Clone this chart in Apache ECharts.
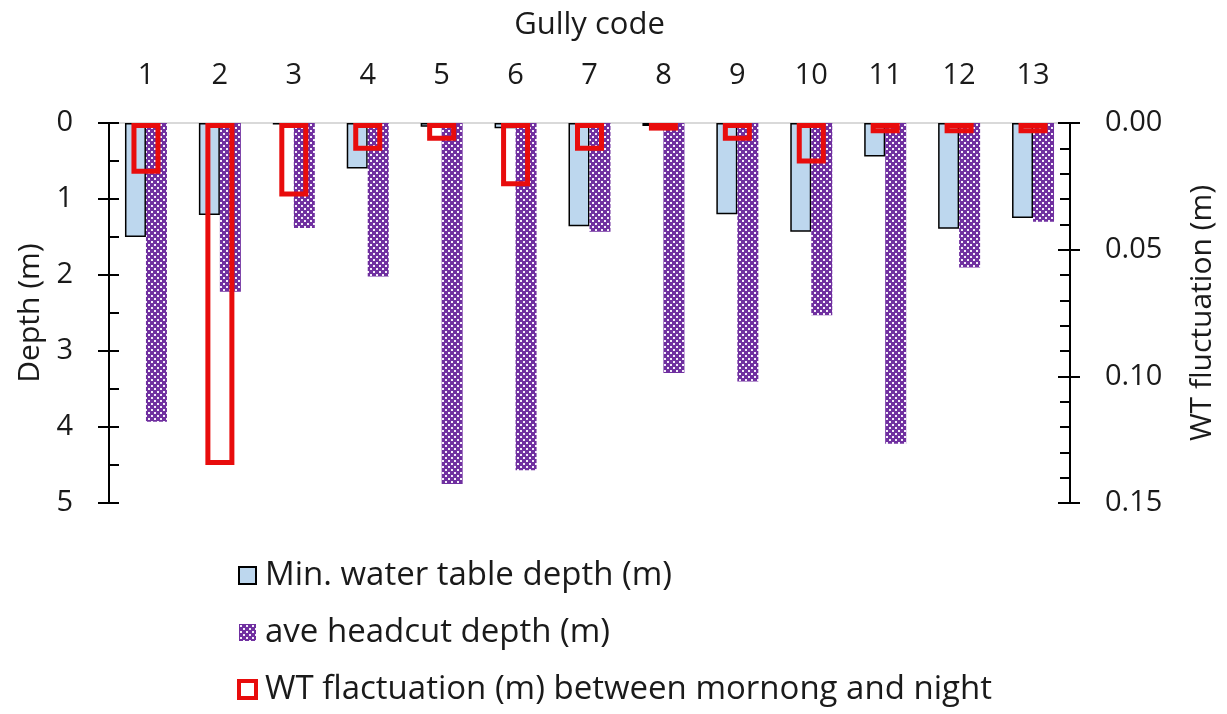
<!DOCTYPE html>
<html>
<head>
<meta charset="utf-8">
<script src="https://cdn.jsdelivr.net/npm/echarts@6/dist/echarts.min.js"></script>
<style>
  html, body { margin: 0; padding: 0; background: #fff; }
  #chart { width: 1227px; height: 714px; }
</style>
</head>
<body>
<div id="chart"></div>
<script>
// 数据
const gully = ['1', '2', '3', '4', '5', '6', '7', '8', '9', '10', '11', '12', '13'];
const minWaterTable = [1.50, 1.21, 0.02, 0.60, 0.05, 0.07, 1.36, 0.04, 1.20, 1.43, 0.44, 1.39, 1.25];
const headcutDepth = [3.93, 2.22, 1.38, 2.02, 4.75, 4.57, 1.43, 3.29, 3.40, 2.53, 4.22, 1.90, 1.30];
const wtFluct = [0.020, 0.135, 0.029, 0.011, 0.007, 0.025, 0.011, 0.003, 0.007, 0.016, 0.004, 0.004, 0.004];

// 紫色点状填充
const makeDots = () => {
  const c = document.createElement('canvas');
  c.width = 6; c.height = 6;
  const ctx = c.getContext('2d');
  ctx.fillStyle = '#7030a0';
  ctx.fillRect(0, 0, 6, 6);
  ctx.fillStyle = '#f4eefa';
  ctx.fillRect(1, 1, 2, 2);
  ctx.fillRect(4, 4, 2, 2);
  return c;
};

const font = 'Open Sans';
const txt = '#1a1a1a';
const chart = echarts.init(document.getElementById('chart'));

const option = {
  animation: false,
  textStyle: { fontFamily: font, color: txt },
  grid: { left: 109, right: 157, top: 123, bottom: 211, outerBoundsMode: 'none', containLabel: false },
  legend: {
    orient: 'vertical',
    left: 232,
    top: 554,
    icon: 'rect',
    itemWidth: 17,
    itemHeight: 17,
    itemGap: 24,
    textStyle: { fontSize: 33, color: txt, fontFamily: font, padding: [0, 0, 0, 4] },
    data: [
      'Min. water table depth (m)',
      'ave headcut depth (m)',
      { name: 'WT flactuation (m) between mornong and night', itemStyle: { borderWidth: 4 } }
    ]
  },
  xAxis: [
    {
      type: 'category',
      position: 'top',
      data: gully,
      name: 'Gully code',
      nameLocation: 'middle',
      nameGap: 82,
      nameTextStyle: { fontSize: 31, color: txt },
      axisLine: { lineStyle: { color: '#d9d9d9', width: 2 } },
      axisTick: { show: false },
      axisLabel: { fontSize: 29, color: txt, margin: 33 }
    },
    {
      type: 'category',
      position: 'top',
      data: gully,
      show: false
    }
  ],
  yAxis: [
    {
      type: 'value',
      inverse: true,
      min: 0, max: 5, interval: 1,
      position: 'left',
      name: 'Depth (m)',
      nameLocation: 'middle',
      nameGap: 56,
      nameTextStyle: { fontSize: 30, color: txt },
      axisLine: { show: true, lineStyle: { color: '#000', width: 2 } },
      axisTick: { show: true, length: 11, lineStyle: { color: '#000', width: 2 } },
      axisLabel: { fontSize: 29, color: txt, margin: 36 },
      splitLine: { show: false }
    },
    {
      type: 'value',
      inverse: true,
      min: 0, max: 0.15, interval: 0.05,
      position: 'right',
      name: 'WT fluctuation (m)',
      nameLocation: 'middle',
      nameGap: 117,
      nameRotate: 90,
      nameTextStyle: { fontSize: 30, color: txt },
      axisLine: { show: true, lineStyle: { color: '#000', width: 2 } },
      axisTick: { show: true, length: 10, lineStyle: { color: '#000', width: 2 } },
      axisLabel: { fontSize: 29, color: txt, margin: 35, formatter: v => v.toFixed(2) },
      splitLine: { show: false }
    },
    {
      // 左轴内侧刻度
      type: 'value',
      inverse: true,
      min: 0, max: 5, interval: 1,
      position: 'left',
      axisLine: { show: false },
      axisTick: { show: true, inside: true, length: 10, lineStyle: { color: '#000', width: 2 } },
      minorTick: { show: true, splitNumber: 2, length: 10, lineStyle: { color: '#000', width: 2 } },
      axisLabel: { show: false },
      splitLine: { show: false }
    },
    {
      // 右轴内侧刻度
      type: 'value',
      inverse: true,
      min: 0, max: 0.15, interval: 0.05,
      position: 'right',
      axisLine: { show: false },
      axisTick: { show: true, inside: true, length: 12, lineStyle: { color: '#000', width: 2 } },
      minorTick: { show: true, splitNumber: 5, length: 10, lineStyle: { color: '#000', width: 2 } },
      axisLabel: { show: false },
      splitLine: { show: false }
    }
  ],
  series: [
    {
      name: 'Min. water table depth (m)',
      type: 'bar',
      xAxisIndex: 0,
      yAxisIndex: 0,
      barWidth: 21,
      barGap: '0%',
      itemStyle: { color: '#bdd7ee', borderColor: '#000', borderWidth: 1.5 },
      data: minWaterTable
    },
    {
      name: 'ave headcut depth (m)',
      type: 'bar',
      xAxisIndex: 0,
      yAxisIndex: 0,
      barWidth: 21,
      barGap: '0%',
      itemStyle: { color: { image: makeDots(), repeat: 'repeat' } },
      data: headcutDepth
    },
    {
      name: 'WT flactuation (m) between mornong and night',
      type: 'bar',
      xAxisIndex: 1,
      yAxisIndex: 1,
      barWidth: 29,
      z: 5,
      itemStyle: { color: 'rgba(0,0,0,0)', borderColor: '#e80c0c', borderWidth: 5 },
      data: wtFluct
    }
  ]
};
chart.setOption(option);
</script>
</body>
</html>
